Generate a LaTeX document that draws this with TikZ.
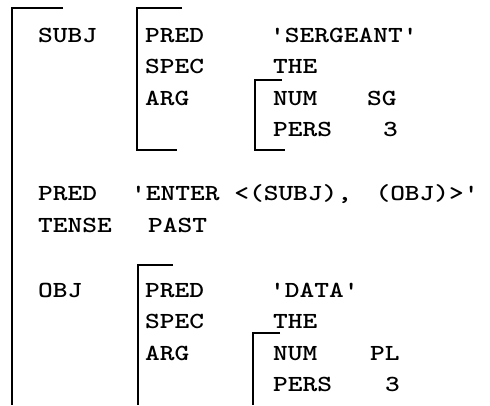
\documentclass[tikz,border=0pt]{standalone}
\usepackage{tikz}

\newcommand{\cw}[1]{\scalebox{1.22}[1]{#1}}
\newcommand{\q}{\textquotesingle}

\begin{document}
\begin{tikzpicture}
          [x = 1pt, y = -1pt,
           fs/.style = {anchor = base west, inner sep = 0pt, font = \fontsize{23}{23}\selectfont\ttfamily\bfseries},
           brk/.style = {line width = 1.6pt}]
          \useasboundingbox (0,0) rectangle (490,405);
          % outer f-structure
          \draw[brk] (63,8) -- (12,8) -- (12,405);
          \node[fs] (subj) at (38,42) {\cw{SUBJ}};
          \node[fs] (pred) at (38,200) {\cw{PRED}};
          \node[fs] (predv) at (131,200) {\cw{\q ENTER <(SUBJ),\ \hspace{-5pt}\ (OBJ)>\q}};
          \node[fs] (tense) at (38,232) {\cw{TENSE}};
          \node[fs] (tensev) at (148,232) {\cw{PAST}};
          \node[fs] (obj) at (38,297) {\cw{OBJ}};
          % subject
          \draw[brk] (182,8) -- (137,8) -- (137,150) -- (177,150);
          \node[fs] (spred) at (145,42) {\cw{PRED}};
          \node[fs] (spredv) at (270,42) {\cw{\q SERGEANT\q}};
          \node[fs] (sspec) at (145,73.5) {\cw{SPEC}};
          \node[fs] (sspecv) at (273,73.5) {\cw{THE}};
          \node[fs] (sarg) at (145,105) {\cw{ARG}};
          \draw[brk] (282,80) -- (255,80) -- (255,150) -- (285,150);
          \node[fs] (snum) at (273,105) {\cw{NUM}};
          \node[fs] (snumv) at (367,105) {\cw{SG}};
          \node[fs] (spers) at (273,136.5) {\cw{PERS}};
          \node[fs] (spersv) at (383,136.5) {\cw{3}};
          % object
          \draw[brk] (173,265) -- (138,265) -- (138,405);
          \node[fs] (opred) at (145,297) {\cw{PRED}};
          \node[fs] (opredv) at (270,297) {\cw{\q DATA\q}};
          \node[fs] (ospec) at (145,328) {\cw{SPEC}};
          \node[fs] (ospecv) at (273,328) {\cw{THE}};
          \node[fs] (oarg) at (145,360) {\cw{ARG}};
          \draw[brk] (280,333) -- (253,333) -- (253,405);
          \node[fs] (onum) at (273,360) {\cw{NUM}};
          \node[fs] (onumv) at (370,360) {\cw{PL}};
          \node[fs] (opers) at (273,391) {\cw{PERS}};
          \node[fs] (opersv) at (385,391) {\cw{3}};
        \end{tikzpicture}
\end{document}
